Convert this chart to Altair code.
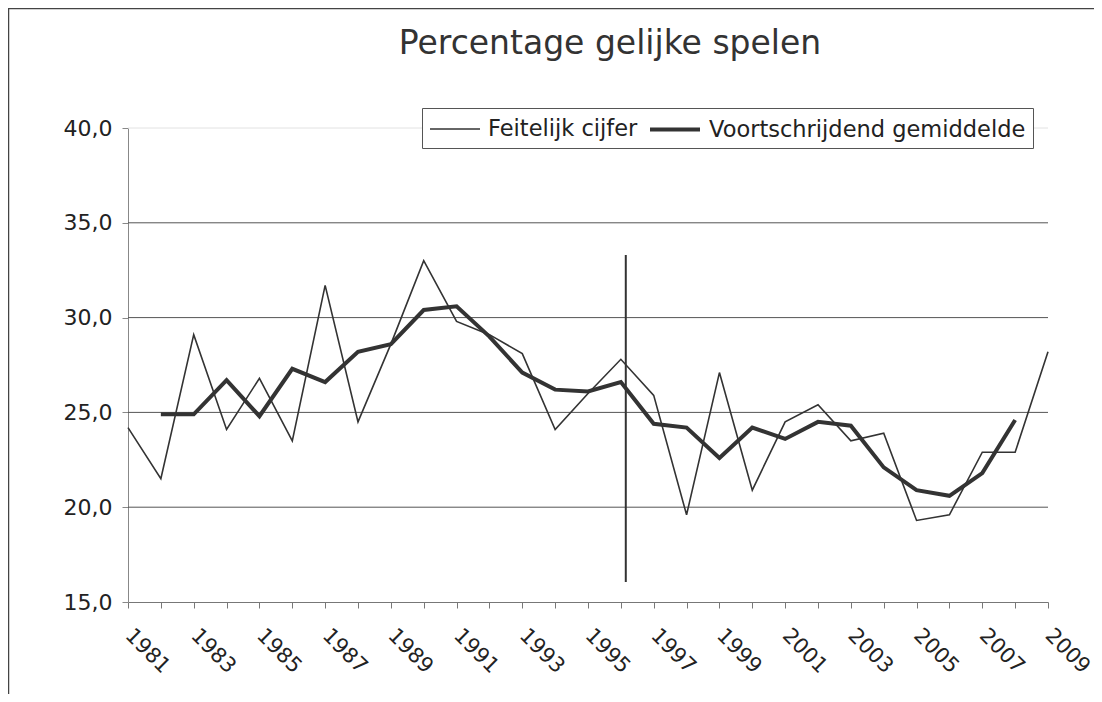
import altair as alt
import pandas as pd

# ---- data ----
years = list(range(1981, 2010))
actual = [24.2, 21.5, 29.1, 24.1, 26.8, 23.5, 31.7, 24.5, 28.6, 33.0,
          29.8, 29.1, 28.1, 24.1, 26.0, 27.8, 25.9, 19.6, 27.1, 20.9,
          24.5, 25.4, 23.5, 23.9, 19.3, 19.6, 22.9, 22.9, 28.2]
avg_years = list(range(1982, 2009))
moving_avg = [24.9, 24.9, 26.7, 24.8, 27.3, 26.6, 28.2, 28.6, 30.4, 30.6,
              29.0, 27.1, 26.2, 26.1, 26.6, 24.4, 24.2, 22.6, 24.2, 23.6,
              24.5, 24.3, 22.1, 20.9, 20.6, 21.8, 24.6]
series_names = ["Feitelijk cijfer", "Voortschrijdend gemiddelde"]
y_ticks = [15, 20, 25, 30, 35, 40]
grid_dark = [20, 25, 30, 35]
grid_light = [40]
marker_year = [1996.15]
marker_low = [16.05]
marker_high = [33.3]

rows = [{"jaar": y, "waarde": v, "reeks": series_names[0]} for y, v in zip(years, actual)]
rows += [{"jaar": y, "waarde": v, "reeks": series_names[1]} for y, v in zip(avg_years, moving_avg)]
df = pd.DataFrame(rows)

FONT = "DejaVu Sans"
x_scale = alt.Scale(domain=[years[0], years[-1]], nice=False, zero=False)
y_scale = alt.Scale(domain=[y_ticks[0], y_ticks[-1]], nice=False, zero=False)

x_axis = alt.Axis(
    values=years,
    format="d",
    labelExpr="datum.value % 2 == 1 ? datum.label : ''",
    labelAngle=45,
    labelAlign="left",
    labelBaseline="middle",
    labelPadding=24,
    labelOffset=0,
    labelFontSize=21,
    labelFont=FONT,
    labelColor="#222",
    labelFlush=False,
    labelOverlap=False,
    tickSize=6,
    tickColor="#777",
    domainColor="#777",
    grid=False,
    title=None,
)
y_axis = alt.Axis(
    values=y_ticks,
    labelExpr="replace(format(datum.value, '.1f'), '.', ',')",
    labelFontSize=22,
    labelFont=FONT,
    labelColor="#222",
    labelPadding=10,
    tickSize=6,
    tickColor="#888",
    domainColor="#888",
    grid=False,
    title=None,
)

grid_l = alt.Chart(pd.DataFrame({"v": grid_light})).mark_rule(color="#e2e2e2", strokeWidth=1).encode(
    y=alt.Y("v:Q", scale=y_scale, axis=y_axis)
)
grid_d = alt.Chart(pd.DataFrame({"v": grid_dark})).mark_rule(color="#555", strokeWidth=1).encode(
    y=alt.Y("v:Q", scale=y_scale, axis=y_axis)
)

marker = alt.Chart(pd.DataFrame({"x": marker_year, "y": marker_low, "y2": marker_high})).mark_rule(
    color="#333", strokeWidth=2
).encode(
    x=alt.X("x:Q", scale=x_scale, axis=x_axis),
    y=alt.Y("y:Q", scale=y_scale, axis=y_axis),
    y2="y2:Q",
)

lines = alt.Chart(df).mark_line(color="#333").encode(
    x=alt.X("jaar:Q", scale=x_scale, axis=x_axis),
    y=alt.Y("waarde:Q", scale=y_scale, axis=y_axis),
    strokeWidth=alt.StrokeWidth(
        "reeks:N",
        scale=alt.Scale(domain=series_names, range=[1.6, 4]),
        legend=alt.Legend(
            orient="none",
            legendX=294,
            legendY=-20,
            direction="horizontal",
            title=None,
            symbolType="M-1,0H3",
            symbolSize=625,
            symbolStrokeColor="#333",
            labelOffset=32,
            labelFontSize=22.5,
            labelFont=FONT,
            labelColor="#222",
            labelLimit=500,
            columnPadding=4,
            padding=7,
            strokeColor="#555",
            fillColor="white",
        ),
    ),
    detail="reeks:N",
)

frame = alt.Chart(pd.DataFrame({"a": [0]})).mark_rect(
    fillOpacity=0, stroke="#444", strokeWidth=1.5
).encode(
    x=alt.value(-119.5), x2=alt.value(2000), y=alt.value(-119.5), y2=alt.value(2000)
)

chart = alt.layer(grid_l, grid_d, marker, lines, frame).properties(
    width=920,
    height=474,
    title=alt.Title(
        "Percentage gelijke spelen",
        fontSize=33,
        font=FONT,
        fontWeight="normal",
        color="#333",
        anchor="middle",
        baseline="alphabetic",
        dx=22,
        offset=-79.5,
    ),
    autosize=alt.AutoSizeParams(type="none"),
    padding={"left": 120, "top": 120, "right": 46, "bottom": 92},
).configure_view(stroke=None)

chart.save("out.html", embed_options={"renderer": "svg", "actions": False})
